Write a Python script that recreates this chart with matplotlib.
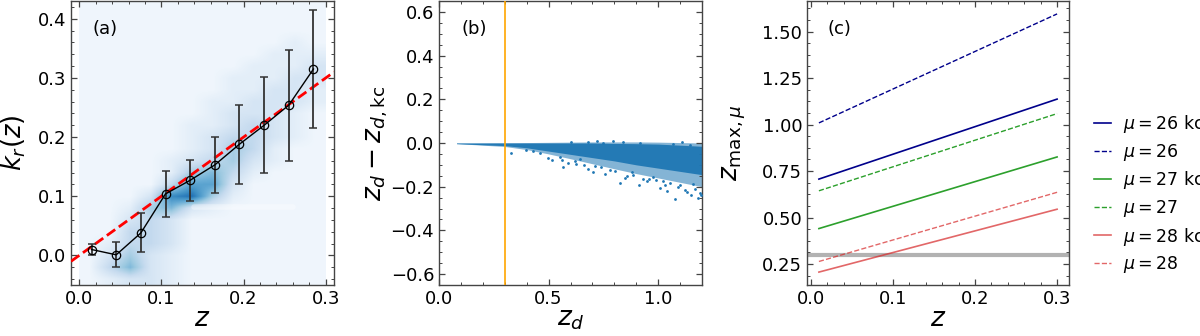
import numpy as np
import matplotlib
matplotlib.use("Agg")
import matplotlib.pyplot as plt
from matplotlib.ticker import MultipleLocator, AutoMinorLocator

# ---------------- data: panel (a) ----------------
z_bins = [0.015, 0.045, 0.075, 0.105, 0.135, 0.165, 0.195, 0.225, 0.255, 0.285]
kr_mean = [0.010, 0.001, 0.038, 0.104, 0.127, 0.153, 0.188, 0.220, 0.254, 0.315]
kr_err = [0.010, 0.021, 0.033, 0.039, 0.035, 0.047, 0.067, 0.081, 0.094, 0.100]
fit_slope = 1.0
fit_intercept = 0.0
# background density (levels 0-9), rows from k=0.42 (top) to k=-0.04 (bottom), cols z=0.0125..0.2875
density_rows = [
    "111111111111",
    "111111111111",
    "111111111111",
    "111111111121",
    "111111111222",
    "111111112223",
    "111111122233",
    "111111122332",
    "111111223332",
    "111111233321",
    "111112234321",
    "111112344321",
    "111112354211",
    "111123453211",
    "111125642111",
    "111147731111",
    "111389521111",
    "112563211111",
    "113431111111",
    "114431111111",
    "124431111111",
    "135321111111",
    "146321111111",
    "123321111111",
]
density_extent = (0.0, 0.3, -0.05, 0.43)
# faint white gap below the ridge (z range, k value)
gap_z = [0.14, 0.26]
gap_k = 0.082

# ---------------- data: panel (b) ----------------
zd_band = [0.08, 0.15, 0.3, 0.4, 0.5, 0.6, 0.7, 0.8, 0.9, 1.0, 1.1, 1.2]
band_hi = [0.0, 0.0, 0.0, 0.0, 0.0, 0.0, 0.0, -0.002, -0.003, -0.005, -0.01, -0.015]
band_lo = [-0.003, -0.006, -0.012, -0.022, -0.037, -0.052, -0.067, -0.082, -0.1, -0.115, -0.13, -0.145]
sparse_hi = [0.0, 0.0, 0.001, 0.002, 0.003, 0.004, 0.005, 0.005, 0.005, 0.004, 0.002, 0.0]
sparse_lo = [-0.003, -0.007, -0.016, -0.03, -0.05, -0.072, -0.095, -0.118, -0.14, -0.16, -0.18, -0.2]
out_zd = [0.327, 0.514, 0.499, 0.564, 0.59, 0.625, 0.681, 0.72, 0.795, 0.757, 0.704, 0.803,
          0.848, 0.912, 0.947, 1.008, 1.054, 1.077, 1.122, 1.148, 1.183, 1.16, 0.977, 0.886,
          0.643, 0.56, 1.145, 1.069, 0.917, 0.75, 0.826, 1.04, 1.1, 0.46, 0.43, 0.62, 0.66,
          0.74, 0.86, 0.93, 0.99, 1.03, 1.09, 1.13, 1.19, 1.17, 1.02, 0.96, 0.88, 0.78,
          0.71, 0.55, 0.68, 0.84, 1.11, 1.195, 0.6, 0.395]
out_dz = [-0.044, -0.079, -0.067, -0.109, -0.091, -0.094, -0.12, 0.009, 0.009, -0.14, -0.132, -0.127,
          -0.162, -0.193, -0.173, -0.208, -0.185, -0.258, -0.215, -0.238, -0.253, -0.187, -0.155, -0.147,
          -0.075, -0.079, -0.01, -0.003, 0.0, 0.0, -0.183, -0.22, -0.192, -0.045, -0.035, -0.082, -0.1,
          -0.11, -0.15, -0.165, -0.17, -0.19, -0.2, -0.225, -0.23, -0.21, -0.175, -0.165, -0.135, -0.125,
          -0.105, -0.065, 0.004, 0.006, 0.005, -0.24, 0.003, -0.03]
zd_cut = 0.3

# ---------------- data: panel (c) ----------------
z_c = [0.01, 0.3]
zmax_26kc = [0.707, 1.137]
zmax_26 = [1.009, 1.595]
zmax_27kc = [0.441, 0.826]
zmax_27 = [0.644, 1.059]
zmax_28kc = [0.207, 0.545]
zmax_28 = [0.264, 0.636]
z_limit = 0.3

# ---------------- figure ----------------
fig = plt.figure(figsize=(12, 3.36), dpi=100)
W, H = 1200.0, 336.0
ax1 = fig.add_axes([71 / W, 51 / H, 263 / W, 284 / H])
ax2 = fig.add_axes([439 / W, 51 / H, 263 / W, 284 / H])
ax3 = fig.add_axes([807 / W, 51 / H, 262 / W, 284 / H])

spine_col = "#444444"
for ax in (ax1, ax2, ax3):
    ax.tick_params(which="both", direction="in", top=True, right=True,
                   color=spine_col, labelcolor="black", labelsize=13)
    ax.tick_params(which="major", length=4.5, width=0.9)
    ax.tick_params(which="minor", length=2.5, width=0.7)
    for s in ax.spines.values():
        s.set_color(spine_col)
        s.set_linewidth(1.0)

# panel (a)
level_frac = [0.0, 0.04, 0.1, 0.17, 0.26, 0.35, 0.45, 0.55, 0.65, 0.75]
grid = np.array([[level_frac[int(ch)] for ch in row] for row in density_rows])
ax1.imshow(grid, cmap="Blues", vmin=0, vmax=1, extent=density_extent, origin="upper",
           aspect="auto", interpolation="bilinear", zorder=0)
ax1.plot(gap_z, [gap_k, gap_k], color="white", lw=4, alpha=0.35, solid_capstyle="round", zorder=1)
ax1.axline((0.0, fit_intercept), slope=fit_slope, color="red", lw=2, ls="--", zorder=3)
ax1.errorbar(z_bins, kr_mean, yerr=kr_err, fmt="none", ecolor="#333333", elinewidth=1.3,
             capsize=3, capthick=1.1, zorder=4)
ax1.plot(z_bins, kr_mean, color="black", lw=1, marker="o", ms=6, mfc="none", mec="black",
         mew=0.9, zorder=5)
ax1.set_xlim(-0.01, 0.31)
ax1.set_ylim(-0.05, 0.43)
ax1.xaxis.set_major_locator(MultipleLocator(0.1))
ax1.yaxis.set_major_locator(MultipleLocator(0.1))
ax1.xaxis.set_minor_locator(AutoMinorLocator(5))
ax1.yaxis.set_minor_locator(AutoMinorLocator(5))
ax1.set_xlabel("$z$", fontsize=19, labelpad=-1.5)
ax1.set_ylabel("$k_r(z)$", fontsize=18.5)
ax1.yaxis.set_label_coords(-0.165, 0.5)
ax1.text(0.08, 0.9, "(a)", transform=ax1.transAxes, fontsize=13, va="center")

# panel (b)
c_b = "#1f77b4"
ax2.fill_between(zd_band, sparse_lo, sparse_hi, color=c_b, alpha=0.55, lw=0, zorder=1)
ax2.fill_between(zd_band, band_lo, band_hi, color=c_b, alpha=0.95, lw=0, zorder=2)
ax2.scatter(out_zd, out_dz, s=4, color=c_b, lw=0, zorder=3)
ax2.axvline(zd_cut, color="orange", lw=1.2, zorder=4)
ax2.set_xlim(0.0, 1.2)
ax2.set_ylim(-0.65, 0.65)
ax2.xaxis.set_major_locator(MultipleLocator(0.5))
ax2.yaxis.set_major_locator(MultipleLocator(0.2))
ax2.xaxis.set_minor_locator(AutoMinorLocator(5))
ax2.yaxis.set_minor_locator(AutoMinorLocator(4))
ax2.set_xlabel("$z_d$", fontsize=19, labelpad=-1.5)
ax2.set_ylabel(r"$z_d - z_{d,\mathrm{kc}}$", fontsize=19)
ax2.yaxis.set_label_coords(-0.186, 0.5)
ax2.text(0.084, 0.9, "(b)", transform=ax2.transAxes, fontsize=13, va="center")

# panel (c)
red = "#d62728"
ax3.plot(z_c, zmax_26kc, color="darkblue", lw=1.2, label=r"$\mu = 26$ kc")
ax3.plot(z_c, zmax_26, color="darkblue", lw=1.0, ls="--", label=r"$\mu = 26$")
ax3.plot(z_c, zmax_27kc, color="tab:green", lw=1.2, label=r"$\mu = 27$ kc")
ax3.plot(z_c, zmax_27, color="tab:green", lw=1.0, ls="--", label=r"$\mu = 27$")
ax3.plot(z_c, zmax_28kc, color=red, alpha=0.7, lw=1.2, label=r"$\mu = 28$ kc")
ax3.plot(z_c, zmax_28, color=red, alpha=0.7, lw=1.0, ls="--", label=r"$\mu = 28$")
ax3.axhline(z_limit, color="gray", alpha=0.6, lw=3, zorder=0)
ax3.xaxis.set_major_locator(MultipleLocator(0.1))
ax3.yaxis.set_major_locator(MultipleLocator(0.25))
ax3.xaxis.set_minor_locator(AutoMinorLocator(5))
ax3.yaxis.set_minor_locator(AutoMinorLocator(4))
ax3.set_xlabel("$z$", fontsize=19, labelpad=-1.5)
ax3.set_ylabel(r"$z_{\mathrm{max},\mu}$", fontsize=19)
ax3.yaxis.set_label_coords(-0.225, 0.5)
ax3.text(0.08, 0.9, "(c)", transform=ax3.transAxes, fontsize=13, va="center")
ax3.legend(loc="center left", bbox_to_anchor=(1.035, 0.32), frameon=False, fontsize=12.5,
           handlelength=1.0, handletextpad=0.7, labelspacing=0.38)

fig.savefig("out.png", dpi=100)
